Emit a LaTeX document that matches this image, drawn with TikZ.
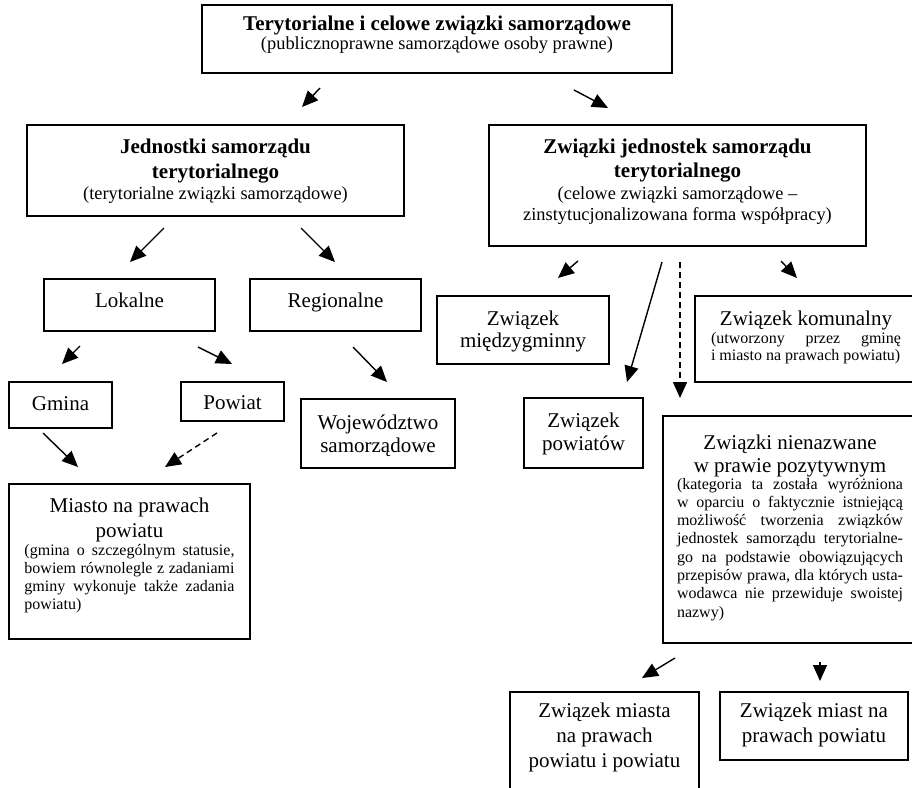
\documentclass[tikz,border=0pt]{standalone}
\usepackage{fontspec}
\setmainfont{Liberation Serif}
\usetikzlibrary{arrows.meta}
\newcommand{\fsz}[2]{\fontsize{#1}{#2}\selectfont}
\newcommand{\fl}{\rule{0pt}{20pt}}
\newcommand{\bxt}[4]{\parbox[c][#2][t]{#1}{\lineskiplimit=-100pt\vspace*{#3}\centering #4\par}}
\newcommand{\jst}[3]{\parbox[t]{#1}{\fsz{16}{#2}\lineskiplimit=-100pt\hyphenpenalty=10000 #3}}
\begin{document}
\begin{tikzpicture}[x=1pt,y=-1pt,
  box/.style={draw, line width=1.6pt, inner sep=0pt, outer sep=0pt, anchor=north west},
  arr/.style={-{Triangle[length=16pt,width=14pt]}, line width=1.4pt},
  darr/.style={arr, dash pattern=on 6pt off 4pt}]
\useasboundingbox (0,0) rectangle (912,787);
\clip (0,0) rectangle (912,787);
\fill[white] (0,0) rectangle (912,787);

\node[box] (top) at (202,5) {\bxt{470pt}{68pt}{6pt}{{\fsz{21}{17}\bfseries\fl Terytorialne i celowe związki samorządowe\par}{\fsz{18.4}{19}(publicznoprawne samorządowe osoby prawne)\par}}};

\node[box] (jst) at (27,125) {\bxt{377pt}{91pt}{8pt}{{\fsz{21}{25}\bfseries\fl Jednostki samorządu\\terytorialnego\par}{\fsz{18.4}{21}(terytorialne związki samorządowe)\par}}};

\node[box] (zjst) at (489,125) {\bxt{377pt}{121pt}{8pt}{{\fsz{21}{24.5}\bfseries\fl Związki jednostek samorządu\\terytorialnego\par}{\fsz{18.4}{21.5}(celowe związki samorządowe –\\zinstytucjonalizowana forma współpracy)\par}}};

\node[box] (lok) at (44,279) {\bxt{171pt}{52pt}{8pt}{\fsz{21}{25}\fl Lokalne}};
\node[box] (reg) at (250,279) {\bxt{171pt}{52pt}{8pt}{\fsz{21}{25}\fl Regionalne}};
\node[box] (gmina) at (9,382) {\bxt{103pt}{46pt}{8pt}{\fsz{21}{25}\fl Gmina}};
\node[box] (powiat) at (181,382) {\bxt{103pt}{39pt}{7pt}{\fsz{21}{25}\fl Powiat}};
\node[box] (woj) at (301,399) {\bxt{154pt}{69pt}{10pt}{\fsz{21}{23}\fl Województwo\\samorządowe}};

\node[box] (miasto) at (9,484) {\bxt{241pt}{155pt}{8pt}{{\fsz{21}{25}\fl Miasto na prawach\\powiatu\par}{\fsz{16}{18}\jst{210pt}{18.3}{(gmina o szczególnym statusie,\linebreak bowiem równolegle z zadaniami\linebreak gminy wykonuje także zadania\linebreak powiatu)}\par}}};

\node[box] (mzg) at (437,296) {\bxt{172pt}{68pt}{9pt}{\fsz{21}{22}\fl Związek\\międzygminny}};
\node[box] (zpow) at (524,398) {\bxt{119pt}{70pt}{9pt}{\fsz{21}{23}\fl Związek\\powiatów}};

\node[box] (kom) at (695,296) {\bxt{222pt}{86pt}{9pt}{{\fsz{21}{25}\fl Związek komunalny\par}{\fsz{16}{18}\jst{190pt}{17}{(utworzony przez gminę\linebreak i miasto na prawach powiatu)}\par}}};

\node[box] (nn) at (663,416) {\bxt{254pt}{227pt}{13pt}{{\fsz{21}{23}\fl Związki nienazwane\\w prawie pozytywnym\par}{\fsz{16}{17}\jst{226pt}{18.3}{(kategoria ta została wyróżniona\linebreak w oparciu o faktycznie istniejącą\linebreak możliwość tworzenia związków\linebreak jednostek samorządu terytorialne-\linebreak go na podstawie obowiązujących\linebreak przepisów prawa, dla których usta-\linebreak wodawca nie przewiduje swoistej\linebreak nazwy)}\par}}};

\node[box] (zmpp) at (510,692) {\bxt{189pt}{120pt}{5pt}{\fsz{21}{25}\fl Związek miasta\\na prawach\\powiatu i powiatu}};
\node[box] (zmiast) at (720,692) {\bxt{188pt}{68pt}{5pt}{\fsz{21}{25}\fl Związek miast na\\prawach powiatu}};

% arrow end points
\coordinate (a1s) at (320,88);  \coordinate (a1e) at (302,107);
\coordinate (a2s) at (574,90);  \coordinate (a2e) at (608,108);
\coordinate (a3s) at (164,228); \coordinate (a3e) at (130,262);
\coordinate (a4s) at (301,228); \coordinate (a4e) at (335,262);
\coordinate (a5s) at (80,346);  \coordinate (a5e) at (62,364);
\coordinate (a6s) at (198,347); \coordinate (a6e) at (232,364);
\coordinate (a7s) at (353,347); \coordinate (a7e) at (387,382);
\coordinate (a8s) at (43,433);  \coordinate (a8e) at (78,467);
\coordinate (a9s) at (217,433); \coordinate (a9e) at (165,467);
\coordinate (a10s) at (578,261); \coordinate (a10e) at (558,278);
\coordinate (a11s) at (662,262); \coordinate (a11e) at (627,382);
\coordinate (a12s) at (680,262); \coordinate (a12e) at (680,398);
\coordinate (a13s) at (781,261); \coordinate (a13e) at (797,278);
\coordinate (a14s) at (675,658); \coordinate (a14e) at (642,678);
\coordinate (a15s) at (820,662); \coordinate (a15e) at (820,681);

\draw[arr] (a1s) -- (a1e);
\draw[arr] (a2s) -- (a2e);
\draw[arr] (a3s) -- (a3e);
\draw[arr] (a4s) -- (a4e);
\draw[arr] (a5s) -- (a5e);
\draw[arr] (a6s) -- (a6e);
\draw[arr] (a7s) -- (a7e);
\draw[arr] (a8s) -- (a8e);
\draw[darr] (a9s) -- (a9e);
\draw[arr] (a10s) -- (a10e);
\draw[arr] (a11s) -- (a11e);
\draw[darr] (a12s) -- (a12e);
\draw[arr] (a13s) -- (a13e);
\draw[arr] (a14s) -- (a14e);
\draw[arr] (a15s) -- (a15e);
\end{tikzpicture}
\end{document}
